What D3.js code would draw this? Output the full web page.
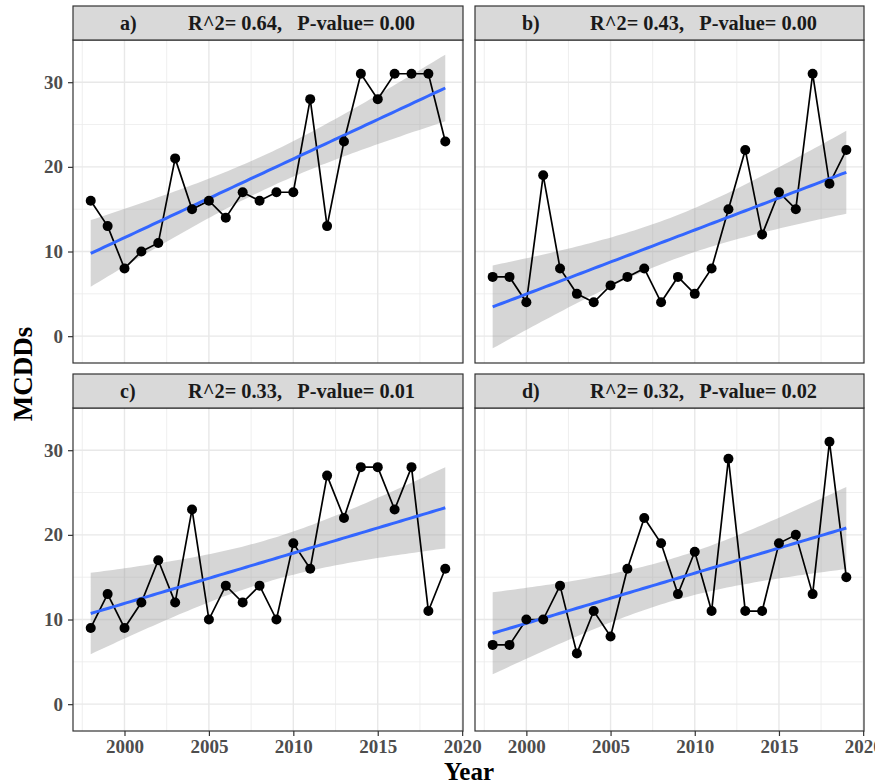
<!DOCTYPE html>
<html>
<head>
<meta charset="utf-8">
<script src="https://cdn.jsdelivr.net/npm/d3@7"></script>
<style>
  body { margin: 0; background: #fff; }
  svg { display: block; }
  text { font-family: "Liberation Serif", "Times New Roman", serif; font-weight: bold; }
</style>
</head>
<body>
<svg id="chart" width="875" height="784"></svg>
<script>
const years = [1998, 1999, 2000, 2001, 2002, 2003, 2004, 2005, 2006, 2007, 2008,
               2009, 2010, 2011, 2012, 2013, 2014, 2015, 2016, 2017, 2018, 2019];
const seriesA = [16, 13, 8, 10, 11, 21, 15, 16, 14, 17, 16, 17, 17, 28, 13, 23, 31, 28, 31, 31, 31, 23];
const seriesB = [7, 7, 4, 19, 8, 5, 4, 6, 7, 8, 4, 7, 5, 8, 15, 22, 12, 17, 15, 31, 18, 22];
const seriesC = [9, 13, 9, 12, 17, 12, 23, 10, 14, 12, 14, 10, 19, 16, 27, 22, 28, 28, 23, 28, 11, 16];
const seriesD = [7, 7, 10, 10, 14, 6, 11, 8, 16, 22, 19, 13, 18, 11, 29, 11, 11, 19, 20, 13, 31, 15];
const panelTags = ["a)", "b)", "c)", "d)"];
const r2Labels = ["0.64", "0.43", "0.33", "0.32"];
const pLabels = ["0.00", "0.00", "0.01", "0.02"];
const xTicks = [2000, 2005, 2010, 2015, 2020];
const xMinor = [1997.5, 2002.5, 2007.5, 2012.5, 2017.5];
const yTicks = [0, 10, 20, 30];
const yMinor = [5, 15, 25];

const allSeries = [seriesA, seriesB, seriesC, seriesD];

// linear fit + 95% confidence band, like geom_smooth(method = "lm")
function fit(ys) {
  const n = ys.length;
  const mx = d3.mean(years), my = d3.mean(ys);
  const sxx = d3.sum(years, x => (x - mx) ** 2);
  const b = d3.sum(years, (x, i) => (x - mx) * (ys[i] - my)) / sxx;
  const a = my - b * mx;
  const s = Math.sqrt(d3.sum(years, (x, i) => (ys[i] - a - b * x) ** 2) / (n - 2));
  const t = 2.086; // qt(0.975, 20)
  const x0 = d3.min(years), x1 = d3.max(years);
  return d3.range(81).map(k => {
    const x = x0 + (x1 - x0) * k / 80;
    const y = a + b * x;
    const se = s * Math.sqrt(1 / n + (x - mx) ** 2 / sxx);
    return { x, y, lo: y - t * se, hi: y + t * se };
  });
}
const fits = allSeries.map(fit);

// shared scales (facet_wrap with fixed scales, 5% expansion)
const xr = d3.extent(years);
const xPad = (xr[1] - xr[0]) * 0.05;
const yLo = d3.min([d3.min(allSeries.flat()), d3.min(fits.flat(), d => d.lo)]);
const yHi = d3.max([d3.max(allSeries.flat()), d3.max(fits.flat(), d => d.hi)]);
const yPad = (yHi - yLo) * 0.05;

const cols = [[73, 463], [475, 864]];
const rows = [6, 374];
const stripH = 34, plotH = 323;

const svg = d3.select("#chart");

allSeries.forEach((ys, i) => {
  const [left, right] = cols[i % 2];
  const top = rows[Math.floor(i / 2)];
  const w = right - left;
  const x = d3.scaleLinear().domain([xr[0] - xPad, xr[1] + xPad]).range([0, w]);
  const y = d3.scaleLinear().domain([yLo - yPad, yHi + yPad]).range([plotH, 0]);

  const g = svg.append("g").attr("transform", `translate(${left},${top + stripH})`);

  // strip
  svg.append("rect")
    .attr("x", left).attr("y", top).attr("width", w).attr("height", stripH)
    .attr("fill", "#d9d9d9").attr("stroke", "#333").attr("stroke-width", 1.2);
  svg.append("text")
    .attr("x", left + 47).attr("y", top + stripH / 2).attr("dy", "0.35em")
    .attr("font-size", 20).attr("fill", "#1a1a1a")
    .text(panelTags[i]);
  svg.append("text")
    .attr("x", left + 115).attr("y", top + stripH / 2).attr("dy", "0.35em")
    .attr("xml:space", "preserve").style("white-space", "pre")
    .attr("font-size", 20).attr("fill", "#1a1a1a")
    .attr("textLength", 227).attr("lengthAdjust", "spacingAndGlyphs")
    .text(`R^2= ${r2Labels[i]},   P-value= ${pLabels[i]}`);

  // grid
  g.selectAll(".xminor").data(xMinor).join("line")
    .attr("x1", d => x(d)).attr("x2", d => x(d)).attr("y1", 0).attr("y2", plotH)
    .attr("stroke", "#ebebeb").attr("stroke-width", 0.8);
  g.selectAll(".yminor").data(yMinor).join("line")
    .attr("y1", d => y(d)).attr("y2", d => y(d)).attr("x1", 0).attr("x2", w)
    .attr("stroke", "#ebebeb").attr("stroke-width", 0.8);
  g.selectAll(".xmajor").data(xTicks).join("line")
    .attr("x1", d => x(d)).attr("x2", d => x(d)).attr("y1", 0).attr("y2", plotH)
    .attr("stroke", "#e8e8e8").attr("stroke-width", 1.4);
  g.selectAll(".ymajor").data(yTicks).join("line")
    .attr("y1", d => y(d)).attr("y2", d => y(d)).attr("x1", 0).attr("x2", w)
    .attr("stroke", "#e8e8e8").attr("stroke-width", 1.4);

  // confidence band + fit
  const f = fits[i];
  g.append("path").datum(f)
    .attr("d", d3.area().x(d => x(d.x)).y0(d => y(d.lo)).y1(d => y(d.hi)))
    .attr("fill", "#999").attr("fill-opacity", 0.4);

  // observed series
  const pts = years.map((yr, k) => [yr, ys[k]]);
  g.append("path").datum(pts)
    .attr("d", d3.line().x(d => x(d[0])).y(d => y(d[1])))
    .attr("fill", "none").attr("stroke", "#000").attr("stroke-width", 1.7);

  g.append("path").datum(f)
    .attr("d", d3.line().x(d => x(d.x)).y(d => y(d.y)))
    .attr("fill", "none").attr("stroke", "#3366ff").attr("stroke-width", 3);

  g.selectAll(".pt").data(pts).join("circle")
    .attr("cx", d => x(d[0])).attr("cy", d => y(d[1])).attr("r", 5)
    .attr("fill", "#000");

  // border
  g.append("rect").attr("width", w).attr("height", plotH)
    .attr("fill", "none").attr("stroke", "#333").attr("stroke-width", 1.2);

  // axes
  if (i % 2 === 0) {
    const ax = g.append("g").call(d3.axisLeft(y).tickValues(yTicks).tickSize(5).tickPadding(5));
    ax.select(".domain").remove();
    ax.selectAll("line").attr("stroke", "#333").attr("stroke-width", 1.2);
    ax.selectAll("text").attr("font-size", 19).attr("fill", "#4d4d4d")
      .style("font-family", '"Liberation Serif", serif').style("font-weight", "bold");
  }
  if (i >= 2) {
    const ax = g.append("g").attr("transform", `translate(0,${plotH})`)
      .call(d3.axisBottom(x).tickValues(xTicks).tickFormat(d3.format("d")).tickSize(5).tickPadding(4));
    ax.select(".domain").remove();
    ax.selectAll("line").attr("stroke", "#333").attr("stroke-width", 1.2);
    ax.selectAll("text").attr("font-size", 19).attr("fill", "#4d4d4d")
      .style("font-family", '"Liberation Serif", serif').style("font-weight", "bold");
  }
});

// axis titles
svg.append("text")
  .attr("transform", "translate(32,374) rotate(-90)")
  .attr("text-anchor", "middle").attr("font-size", 27).attr("fill", "#000")
  .text("MCDDs");
svg.append("text")
  .attr("x", 469).attr("y", 780)
  .attr("text-anchor", "middle").attr("font-size", 25).attr("fill", "#000")
  .text("Year");
</script>
</body>
</html>
